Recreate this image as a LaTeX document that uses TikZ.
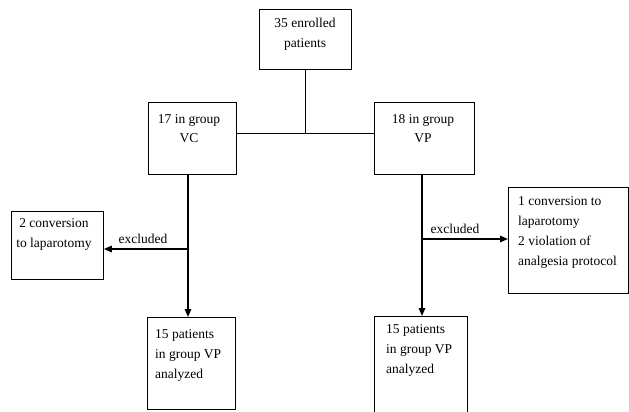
\documentclass[tikz,border=0pt]{standalone}
\usepackage{fontspec}
\setmainfont{Liberation Serif}
\usetikzlibrary{arrows.meta}
\begin{document}
\begin{tikzpicture}[x=1pt,y=-1pt,
  box/.style={draw, line width=0.8pt, inner sep=0pt, anchor=north west},
  txt/.style={inner sep=0pt, font=\fontsize{13.5}{20}\selectfont},
  thinline/.style={line width=0.8pt},
  flow/.style={line width=1.5pt, -{Triangle[length=8pt,width=6.5pt]}},
  side/.style={line width=1.5pt}]
\useasboundingbox (0,0) rectangle (629,412);
% boxes
\node[box, minimum width=92pt, minimum height=60pt] (top) at (259,9) {};
\node[box, minimum width=88pt, minimum height=72pt] (vc) at (148,102) {};
\node[box, minimum width=100pt, minimum height=72pt] (vp) at (374,102) {};
\node[box, minimum width=92pt, minimum height=68pt] (le) at (11,211) {};
\node[box, minimum width=88pt, minimum height=92pt] (bl) at (147,317) {};
\node[box, minimum width=120pt, minimum height=106pt] (re) at (508,187) {};
\node[box, minimum width=93pt, minimum height=110pt] (br) at (374,316) {};
% texts
\node[txt, anchor=base] (t1) at (305,28) {35 enrolled};
\node[txt, anchor=base] (t2) at (305,48) {patients};
\node[txt, anchor=base] (t3) at (189,123) {17 in group};
\node[txt, anchor=base] (t4) at (189,142) {VC};
\node[txt, anchor=base] (t5) at (423,123) {18 in group};
\node[txt, anchor=base] (t6) at (423,142) {VP};
\node[txt, anchor=base] (t7) at (54,227) {2 conversion};
\node[txt, anchor=base] (t8) at (54,247) {to laparotomy};
\node[txt, anchor=base west] (t9) at (155,338) {15 patients};
\node[txt, anchor=base west] (t10) at (155,358) {in group VP};
\node[txt, anchor=base west] (t11) at (155,378) {analyzed};
\node[txt, anchor=base west] (t12) at (518,205) {1 conversion to};
\node[txt, anchor=base west] (t13) at (518,225) {laparotomy};
\node[txt, anchor=base west] (t14) at (518,245) {2 violation of};
\node[txt, anchor=base west] (t15) at (518,265) {analgesia protocol};
\node[txt, anchor=base west] (t16) at (386,333) {15 patients};
\node[txt, anchor=base west] (t17) at (386,353) {in group VP};
\node[txt, anchor=base west] (t18) at (386,373) {analyzed};
\node[txt, anchor=base] (ex1) at (143,243) {excluded};
\node[txt, anchor=base] (ex2) at (455,233) {excluded};
% connectors
\coordinate (hub) at (305,133);
\coordinate (j1) at (188,249);
\coordinate (j2) at (422,239);
\draw[thinline] (top.south) -- (top.south |- hub);
\draw[thinline] (vc.east |- hub) -- (vp.west |- hub);
\draw[flow] (vc.south -| j1) -- (bl.north -| j1);
\draw[flow] (j1) -- (le.east |- j1);
\draw[flow] (vp.south -| j2) -- (br.north -| j2);
\draw[flow] (j2) -- (re.west |- j2);
\end{tikzpicture}
\end{document}
